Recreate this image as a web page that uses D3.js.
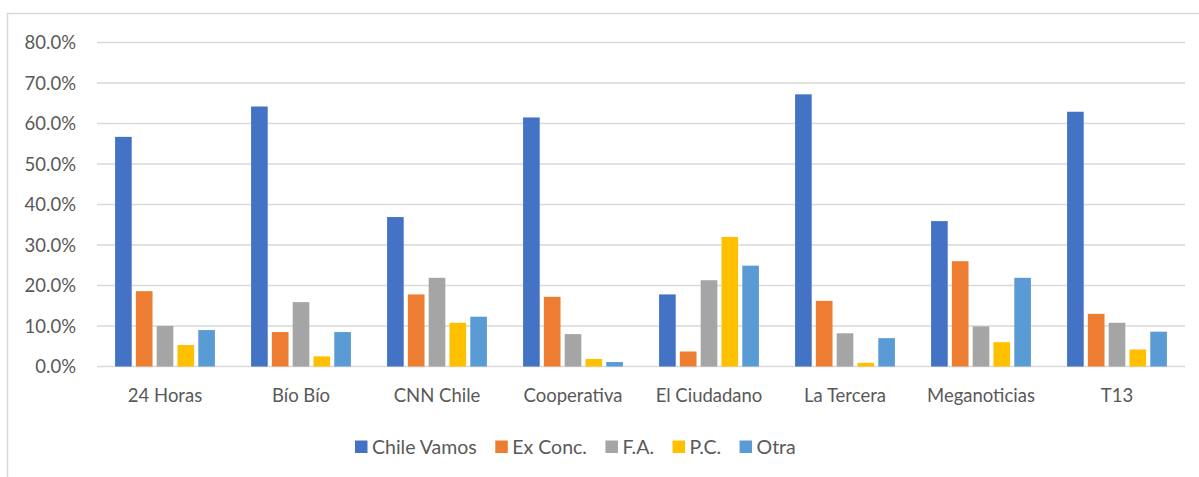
<!DOCTYPE html>
<html>
<head>
<meta charset="utf-8">
<script src="https://cdn.jsdelivr.net/npm/d3@7"></script>
<style>
  html, body { margin: 0; padding: 0; background: #fff; }
  svg { display: block; }
  text { font-family: Lato, "Open Sans", sans-serif; fill: #595959; }
</style>
</head>
<body>
<svg id="chart" width="1199" height="477"></svg>
<script>
const categories = ["24 Horas", "Bío Bío", "CNN Chile", "Cooperativa", "El Ciudadano", "La Tercera", "Meganoticias", "T13"];
const seriesNames = ["Chile Vamos", "Ex Conc.", "F.A.", "P.C.", "Otra"];
const chileVamos = [56.7, 64.2, 36.9, 61.5, 17.8, 67.2, 35.9, 62.9];
const exConc     = [18.6, 8.5, 17.8, 17.2, 3.7, 16.2, 26.0, 13.0];
const fa         = [10.0, 15.9, 21.9, 8.0, 21.3, 8.2, 9.9, 10.8];
const pc         = [5.3, 2.5, 10.8, 1.85, 32.0, 0.9, 6.0, 4.2];
const otra       = [9.0, 8.5, 12.3, 1.1, 24.9, 7.0, 21.9, 8.6];
const yTicks = [0, 10, 20, 30, 40, 50, 60, 70, 80];
const colors = ["#4472C4", "#ED7D31", "#A5A5A5", "#FFC000", "#5B9BD5"];

const seriesValues = [chileVamos, exConc, fa, pc, otra];

const svg = d3.select("#chart");

// chart border (right & bottom edges off-canvas)
svg.append("rect")
  .attr("x", 7.5).attr("y", 13.5)
  .attr("width", 1250).attr("height", 520)
  .attr("fill", "none").attr("stroke", "#d9d9d9").attr("stroke-width", 1.5);

const plot = { left: 97, right: 1185, top: 42.5, bottom: 366.5 };

const y = d3.scaleLinear().domain([0, 80]).range([plot.bottom, plot.top]);
const x0 = d3.scaleBand().domain(categories).range([plot.left, plot.right]).padding(0);
const x1 = d3.scaleBand().domain(seriesNames).range([16, 120]).paddingInner(0.2).paddingOuter(0.1);

// gridlines
svg.append("g").selectAll("line").data(yTicks).join("line")
  .attr("x1", plot.left).attr("x2", plot.right)
  .attr("y1", d => y(d)).attr("y2", d => y(d))
  .attr("stroke", "#d9d9d9").attr("stroke-width", 1.5);

// y axis labels
const yAxis = d3.axisLeft(y).tickValues(yTicks).tickSize(0).tickPadding(0)
  .tickFormat(d => d.toFixed(1) + "%");
const gy = svg.append("g").attr("transform", `translate(76,0)`).call(yAxis);
gy.select(".domain").remove();
gy.selectAll("text").attr("font-size", 18.5).attr("fill", "#595959")
  .attr("font-family", "Lato, 'Open Sans', sans-serif").attr("dy", "0.35em");

// bars
const groups = svg.append("g").selectAll("g").data(categories).join("g")
  .attr("transform", d => `translate(${x0(d)},0)`);
groups.selectAll("rect")
  .data((c, i) => seriesNames.map((s, j) => ({ s, j, v: seriesValues[j][i] })))
  .join("rect")
  .attr("x", d => x1(d.s))
  .attr("width", x1.bandwidth())
  .attr("y", d => y(d.v))
  .attr("height", d => y(0) - y(d.v))
  .attr("fill", d => colors[d.j]);

// x axis labels
const xAxis = d3.axisBottom(x0).tickSize(0).tickPadding(0);
const gx = svg.append("g").attr("transform", `translate(0,${plot.bottom})`).call(xAxis);
gx.select(".domain").remove();
gx.selectAll("text").attr("font-size", 18.5).attr("fill", "#595959")
  .attr("font-family", "Lato, 'Open Sans', sans-serif")
  .attr("y", 35.5).attr("dy", 0);

// legend
const legend = svg.append("g");
let lx = 355;
seriesNames.forEach((s, j) => {
  legend.append("rect").attr("x", lx).attr("y", 440.5).attr("width", 12.5).attr("height", 12.5)
    .attr("fill", colors[j]);
  const t = legend.append("text").attr("x", lx + 17).attr("y", 453.5)
    .attr("font-size", 19.5).text(s);
  lx = lx + 17 + t.node().getComputedTextLength() + 18.5;
});
</script>
</body>
</html>
